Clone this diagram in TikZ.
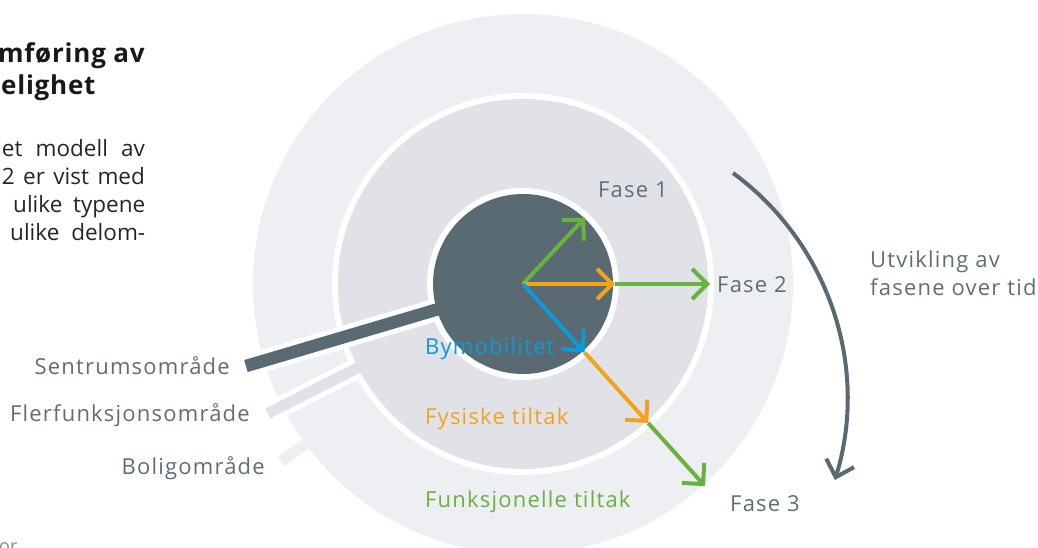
\documentclass[tikz,border=0pt]{standalone}
\usepackage{fontspec}
\setmainfont{Open Sans}
\newfontfamily\lab[LetterSpace=5.5]{Open Sans}
\newfontfamily\hdf[LetterSpace=3]{Open Sans}
\usetikzlibrary{arrows.meta}
\definecolor{outerc}{HTML}{EEEFF3}
\definecolor{midc}{HTML}{E1E2E7}
\definecolor{darkc}{HTML}{5A6A72}
\definecolor{txtc}{HTML}{5E6E76}
\definecolor{grn}{HTML}{6AB23F}
\definecolor{org}{HTML}{F2A31C}
\definecolor{blu}{HTML}{0C9AD8}
\definecolor{capc}{HTML}{8A8A8A}
\tikzset{
  lbl/.style={inner sep=0pt, text=txtc, font=\lab\fontsize{22}{26}\selectfont},
  body/.style={inner sep=0pt, text=black!85, font=\fontsize{22.5}{26}\selectfont},
  head/.style={inner sep=0pt, text=black!90, font=\hdf\bfseries\fontsize{26}{30}\selectfont},
  arr/.style={line width=4pt, line join=miter, -{Straight Barb[length=15pt,width=30pt]}},
}
\begin{document}
\begin{tikzpicture}[x=1pt,y=-1pt]
\useasboundingbox (0,0) rectangle (1038,548);
\clip (0,0) rectangle (1038,548);
\coordinate (O) at (523,284);
% outer ring + Bolig bar
\fill[outerc] (O) circle (270);
\draw[outerc, line width=11pt] (O) -- ++(143.7:300) coordinate (bolig);
% middle ring + Flerfunksjon bar
\draw[white, line width=21pt] (O) -- ++(153.1:286) coordinate (fler);
\fill[white] (O) circle (191);
\draw[midc, line width=11pt] (O) -- (fler);
\fill[midc] (O) circle (185);
% inner circle + Sentrum bar
\draw[white, line width=22.5pt] (O) -- ++(163.5:289) coordinate (sentrum);
\fill[white] (O) circle (96);
\draw[darkc, line width=12.5pt] (O) -- (sentrum);
\fill[darkc] (O) circle (90);
% arrow points
\path (O) ++(-47:91) coordinate (P1);
\path (O) ++(0:92) coordinate (P2);
\path (O) ++(0:187) coordinate (P3);
\path (O) ++(48:92) coordinate (Q1);
\path (O) ++(48:187) coordinate (Q2);
\path (O) ++(48:272) coordinate (Q3);
\draw[arr, grn] (O) -- (P1);
\draw[arr, org] (O) -- (P2);
\draw[arr, grn] (P2) -- (P3);
\draw[arr, blu] (O) -- (Q1);
\draw[arr, org] (Q1) -- (Q2);
\draw[arr, grn] (Q2) -- (Q3);
% time arrow
\coordinate (C) at (567.6,398.3);
\path (C) ++(-53.7:279.5) coordinate (T0);
\draw[darkc, line width=4pt, line join=miter, -{Straight Barb[length=15pt,width=29pt]}] (T0) arc[start angle=-53.7, end angle=17, radius=279.5];
% labels
\node[lbl, anchor=base west] (f1) at (598,197) {Fase 1};
\node[lbl, anchor=base west] (f2) at (717,292) {Fase 2};
\node[lbl, anchor=base west] (f3) at (730,511) {Fase 3};
\node[lbl, anchor=base west, text=blu] (by) at (425,354) {Bymobilitet};
\node[lbl, anchor=base west, text=org] (fy) at (425,424) {Fysiske tiltak};
\node[lbl, anchor=base west, text=grn] (fu) at (425,507) {Funksjonelle tiltak};
\node[lbl, anchor=base east] (ls) at (230,374) {Sentrumsområde};
\node[lbl, anchor=base east] (lf) at (250,421) {Flerfunksjonsområde};
\node[lbl, anchor=base east] (lb) at (265,474) {Boligområde};
\node[lbl, anchor=base west] (u1) at (870,267) {Utvikling av};
\node[lbl, anchor=base west] (u2) at (870,295) {fasene over tid};
% left text
\node[head, anchor=base east] (h1) at (145,63) {mføring av};
\node[head, anchor=base west] (h2) at (1,95) {elighet};
\node[body, anchor=base west] (b1) at (1.7,157) {\makebox[143pt][s]{et modell av}};
\node[body, anchor=base west] (b2) at (1.7,184.5) {\makebox[143pt][s]{2 er vist med}};
\node[body, anchor=base west] (b3) at (13,212.5) {\makebox[132pt][s]{ulike typene}};
\node[body, anchor=base west] (b4) at (10,240) {\makebox[135pt][s]{ulike delom-}};
\node[inner sep=0pt, anchor=base west, text=capc, font=\fontsize{18}{22}\selectfont] (cap) at (-1,552) {or};
\end{tikzpicture}
\end{document}
